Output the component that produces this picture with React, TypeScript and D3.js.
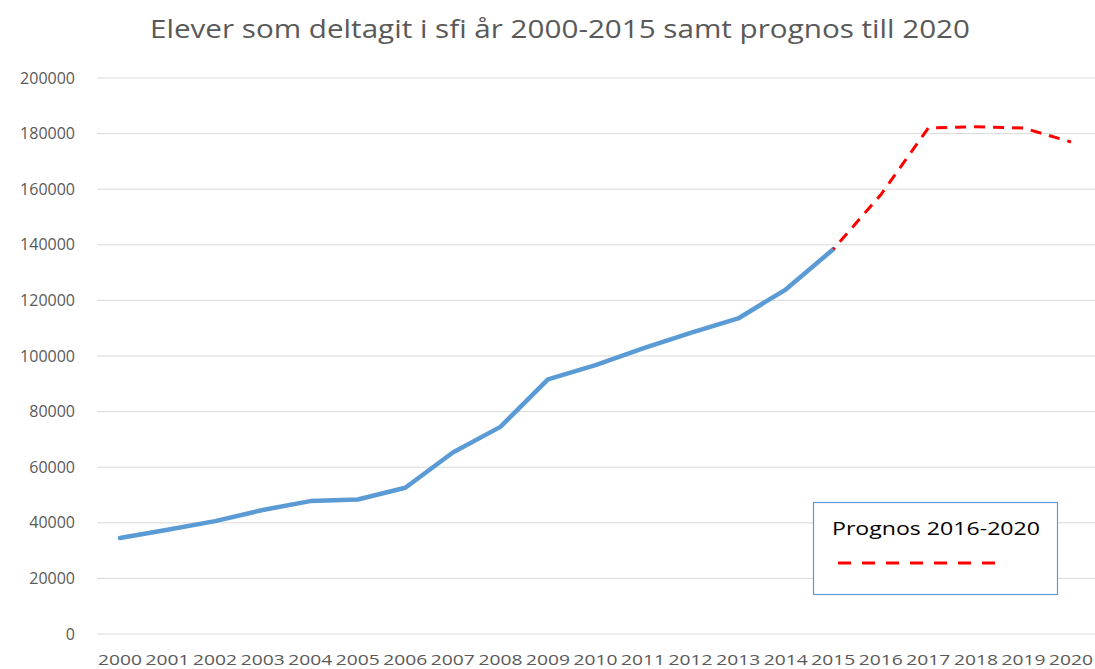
import { useRef, useEffect } from "react";
import * as d3 from "d3";

const years = d3.range(2000, 2021).map(String);
const actualYears = years.slice(0, 16);
const actualValues = [
  34500, 37500, 40600, 44600, 47800, 48400, 52600, 65300, 74500, 91600,
  96700, 102700, 108300, 113500, 123900, 138400,
];
const forecastYears = ["2015", "2016", "2017", "2018", "2019", "2020"];
const forecastValues = [138400, 158000, 182000, 182500, 182000, 177000];
const yTicks = [0, 20000, 40000, 60000, 80000, 100000, 120000, 140000, 160000, 180000, 200000];

const W = 1095;
const H = 669;

export default function App() {
  const svgRef = useRef(null);

  function renderChart() {
    const svg = d3.select(svgRef.current);
    svg.selectAll("*").remove();
    svg.attr("width", W).attr("height", H);

    const x = d3.scalePoint().domain(years).range([120, 1071]);
    const y = d3.scaleLinear().domain([0, 200000]).range([634, 78]);

    svg
      .append("text")
      .text("Elever som deltagit i sfi år 2000-2015 samt prognos till 2020")
      .attr("x", 150)
      .attr("y", 38)
      .attr("textLength", 820)
      .attr("lengthAdjust", "spacingAndGlyphs")
      .attr("font-family", "'Open Sans', sans-serif")
      .attr("font-size", "25px")
      .attr("fill", "#595959");

    // gridlines
    svg
      .append("g")
      .selectAll("line")
      .data(yTicks)
      .join("line")
      .attr("x1", 97)
      .attr("x2", W)
      .attr("y1", (d) => y(d))
      .attr("y2", (d) => y(d))
      .attr("stroke", "#d9d9d9")
      .attr("stroke-width", 1);

    svg
      .append("g")
      .selectAll("text")
      .data(yTicks)
      .join("text")
      .text((d) => String(d))
      .attr("x", 75)
      .attr("y", (d) => y(d) + 5.5)
      .attr("text-anchor", "end")
      .attr("font-family", "'Open Sans', sans-serif")
      .attr("font-size", "16px")
      .attr("fill", "#595959");

    svg
      .append("g")
      .selectAll("text")
      .data(years)
      .join("text")
      .text((d) => d)
      .attr("x", (d) => (x(d) as number) - 22)
      .attr("y", 665)
      .attr("textLength", 44)
      .attr("lengthAdjust", "spacingAndGlyphs")
      .attr("font-family", "'Open Sans', sans-serif")
      .attr("font-size", "15px")
      .attr("fill", "#595959");

    const line = d3
      .line<[string, number]>()
      .x((d) => x(d[0]) as number)
      .y((d) => y(d[1]));

    svg
      .append("path")
      .datum(actualYears.map((yr, i) => [yr, actualValues[i]] as [string, number]))
      .attr("d", line)
      .attr("fill", "none")
      .attr("stroke", "#5b9bd5")
      .attr("stroke-width", 4.5)
      .attr("stroke-linejoin", "round")
      .attr("stroke-linecap", "round");

    svg
      .append("path")
      .datum(forecastYears.map((yr, i) => [yr, forecastValues[i]] as [string, number]))
      .attr("d", line)
      .attr("fill", "none")
      .attr("stroke", "#ff0000")
      .attr("stroke-width", 3)
      .attr("stroke-dasharray", "11 8")
      .attr("stroke-dashoffset", -10);

    // legend box
    const lg = svg.append("g");
    lg.append("rect")
      .attr("x", 813.5)
      .attr("y", 502.5)
      .attr("width", 244)
      .attr("height", 92)
      .attr("fill", "#fff")
      .attr("stroke", "#5b9bd5")
      .attr("stroke-width", 1.2);
    lg.append("text")
      .text("Prognos 2016-2020")
      .attr("x", 832)
      .attr("y", 535)
      .attr("textLength", 208)
      .attr("lengthAdjust", "spacingAndGlyphs")
      .attr("font-family", "'Open Sans', sans-serif")
      .attr("font-size", "19px")
      .attr("fill", "#000");
    lg.append("line")
      .attr("x1", 838)
      .attr("x2", 1003)
      .attr("y1", 563)
      .attr("y2", 563)
      .attr("stroke", "#ff0000")
      .attr("stroke-width", 3)
      .attr("stroke-dasharray", "13 11");
  }

  useEffect(() => {
    renderChart();
  }, []);

  return (
    <div style={{ position: "absolute", left: 0, top: 0, background: "#fff" }}>
      <svg ref={svgRef} style={{ display: "block" }} />
    </div>
  );
}
